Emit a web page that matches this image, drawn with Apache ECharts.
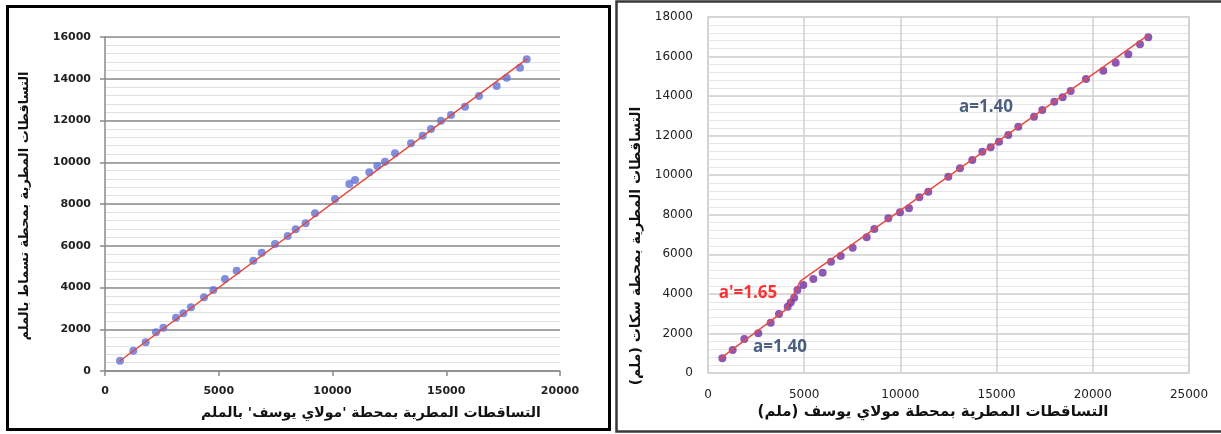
<!DOCTYPE html>
<html>
<head>
<meta charset="utf-8">
<script src="https://cdn.jsdelivr.net/npm/echarts@6/dist/echarts.min.js"></script>
<style>
html,body{margin:0;padding:0;background:#fff;}
#c{width:1221px;height:434px;}
</style>
</head>
<body>
<div id="c"></div>
<script>
// ---- Left chart data (Moulay Youssef vs station 1) ----
const leftX = [659,1245,1788,2242,2564,3121,3443,3780,4352,4762,5275,5788,6520,6886,7473,8029,8381,8820,9231,10110,10740,10989,11619,11971,12308,12747,13451,13963,14330,14769,15209,15824,16440,17216,17656,18242,18535];
const leftY = [493,973,1374,1852,2076,2555,2762,3049,3529,3880,4407,4806,5286,5670,6084,6467,6786,7074,7553,8240,8958,9150,9517,9820,10028,10427,10906,11273,11593,11992,12264,12663,13174,13653,14052,14530,14930];
const leftTrendX = [650, 18550];
const leftTrendY = [480, 14950];
const leftXTicks = [0, 5000, 10000, 15000, 20000];
const leftYTicks = [0, 2000, 4000, 6000, 8000, 10000, 12000, 14000, 16000];

// ---- Right chart data (Moulay Youssef vs Sekkat) ----
const rightX = [745,1282,1888,2616,3257,3690,4141,4300,4480,4650,4955,5475,5960,6393,6896,7519,8247,8645,9373,9979,10447,10983,11450,12490,13098,13737,14257,14693,15125,15609,16128,16944,17375,17999,18435,18851,19647,20546,21190,21845,22453,22885];
const rightY = [743,1163,1719,2007,2545,2983,3353,3560,3800,4200,4450,4753,5073,5629,5916,6337,6861,7281,7821,8124,8326,8883,9168,9926,10350,10770,11190,11412,11697,12034,12455,12960,13298,13719,13939,14258,14865,15285,15690,16113,16619,16973];
const rightTrendX = [600, 4050, 4800, 22900];
const rightTrendY = [700, 3200, 4650, 17100];
const rightXTicks = [0, 5000, 10000, 15000, 20000, 25000];
const rightYTicks = [0, 2000, 4000, 6000, 8000, 10000, 12000, 14000, 16000, 18000];
const annoText = ['a=1.40', "a'=1.65", 'a=1.40'];
const annoX = [14450, 2080, 3740];
const annoY = [13450, 4050, 1320];
const annoColor = ['#1F3864', '#FF0000', '#1F3864'];

// ---- Titles ----
const leftXTitle = "التساقطات المطرية بمحطة 'مولاي يوسف' بالملم";
const leftYTitle = "التساقطات المطرية بمحطة تسماط بالملم";
const rightXTitle = "التساقطات المطرية بمحطة مولاي يوسف (ملم)";
const rightYTitle = "التساقطات المطرية بمحطة سكات (ملم)";

const zip = (a, b) => a.map((v, i) => [v, b[i]]);
const arFont = '"DejaVu Sans", sans-serif';
const plain = v => String(v);

function minorAxis(gridIndex, ticks, color) {
  return {
    gridIndex: gridIndex, type: 'value', position: 'left', offset: 0,
    min: ticks[0], max: ticks[ticks.length - 1], interval: 400,
    axisLine: {show: false}, axisTick: {show: false}, axisLabel: {show: false},
    splitLine: {show: true, lineStyle: {color: color, width: 1.2}}
  };
}

const chart = echarts.init(document.getElementById('c'), null, {renderer: 'canvas'});
const option = {
  animation: false,
  backgroundColor: '#fff',
  grid: [
    {left: 105, top: 37, width: 455, height: 334, show: false, outerBoundsMode: 'none', containLabel: false},
    {left: 708, top: 17, width: 481, height: 356, show: true, borderColor: '#D0D0D0', borderWidth: 1.5, backgroundColor: 'transparent', outerBoundsMode: 'none', containLabel: false}
  ],
  xAxis: [
    {
      gridIndex: 0, type: 'value', position: 'bottom', min: leftXTicks[0], max: leftXTicks[leftXTicks.length - 1], interval: 5000,
      axisLine: {show: true, lineStyle: {color: '#8A8A8A', width: 1.5}},
      axisTick: {show: true, inside: false, length: 5, lineStyle: {color: '#8A8A8A', width: 1.5}},
      axisLabel: {margin: 15, color: '#222', fontFamily: '"DejaVu Sans"', fontSize: 11, fontWeight: 'bold', formatter: plain},
      splitLine: {show: false}
    },
    {
      gridIndex: 1, type: 'value', position: 'bottom', min: rightXTicks[0], max: rightXTicks[rightXTicks.length - 1], interval: 5000,
      axisLine: {show: false},
      axisTick: {show: false},
      axisLabel: {margin: 16, color: '#222', fontFamily: '"DejaVu Sans"', fontSize: 12, formatter: plain},
      splitLine: {show: true, lineStyle: {color: '#D0D0D0', width: 1.5}}
    }
  ],
  yAxis: [
    minorAxis(0, leftYTicks, '#E0E0E0'),
    {
      gridIndex: 0, type: 'value', position: 'left', offset: 0, min: leftYTicks[0], max: leftYTicks[leftYTicks.length - 1], interval: 2000,
      axisLine: {show: true, lineStyle: {color: '#8A8A8A', width: 1.5}},
      axisTick: {show: true, inside: false, length: 5, lineStyle: {color: '#8A8A8A', width: 1.5}},
      axisLabel: {margin: 14, color: '#222', fontFamily: '"DejaVu Sans"', fontSize: 11, fontWeight: 'bold', formatter: plain},
      splitLine: {show: true, lineStyle: {color: '#8C8C8C', width: 1.5}}
    },
    minorAxis(1, rightYTicks, '#E6E6E6'),
    {
      gridIndex: 1, type: 'value', position: 'left', offset: 0, min: rightYTicks[0], max: rightYTicks[rightYTicks.length - 1], interval: 2000,
      axisLine: {show: false},
      axisTick: {show: false},
      axisLabel: {margin: 15, color: '#222', fontFamily: '"DejaVu Sans"', fontSize: 12, formatter: plain},
      splitLine: {show: true, lineStyle: {color: '#D0D0D0', width: 1.5}}
    }
  ],
  series: [
    {
      type: 'scatter', xAxisIndex: 0, yAxisIndex: 1, data: zip(leftX, leftY),
      symbol: 'circle', symbolSize: 8, itemStyle: {color: '#5F72D6'}, z: 2
    },
    {
      type: 'line', xAxisIndex: 0, yAxisIndex: 1, data: zip(leftTrendX, leftTrendY),
      symbol: 'none', lineStyle: {color: '#E3463E', width: 1.5}, z: 3
    },
    {
      type: 'scatter', xAxisIndex: 1, yAxisIndex: 3, data: zip(rightX, rightY),
      symbol: 'circle', symbolSize: 8, itemStyle: {color: '#7030A0'}, z: 2
    },
    {
      type: 'line', xAxisIndex: 1, yAxisIndex: 3, data: zip(rightTrendX, rightTrendY),
      symbol: 'none', lineStyle: {color: '#E84A46', width: 1.5}, z: 3
    },
    {
      type: 'scatter', xAxisIndex: 1, yAxisIndex: 3, symbolSize: 0, z: 5,
      data: annoText.map((t, i) => ({
        value: [annoX[i], annoY[i]],
        label: {show: true, position: 'inside', formatter: t, color: annoColor[i],
          fontFamily: '"Open Sans", "DejaVu Sans", sans-serif', fontSize: 17, fontWeight: 'bold'}
      }))
    }
  ],
  graphic: [
    {type: 'rect', shape: {x: 7.5, y: 6.5, width: 602, height: 423}, style: {fill: 'none', stroke: '#000', lineWidth: 3}, z: 10},
    {type: 'rect', shape: {x: 616.5, y: 1.5, width: 606, height: 430}, style: {fill: 'none', stroke: '#3A3A3A', lineWidth: 2.5}, z: 10},
    {type: 'text', x: 371, y: 413, style: {text: leftXTitle, fill: '#111', font: 'bold 14px ' + arFont, textAlign: 'center', textVerticalAlign: 'middle'}, z: 10},
    {type: 'text', x: 25, y: 206, rotation: Math.PI / 2, style: {text: leftYTitle, fill: '#111', font: 'bold 13px ' + arFont, textAlign: 'center', textVerticalAlign: 'middle'}, z: 10},
    {type: 'text', x: 933, y: 412, style: {text: rightXTitle, fill: '#111', font: 'bold 15px ' + arFont, textAlign: 'center', textVerticalAlign: 'middle'}, z: 10},
    {type: 'text', x: 636, y: 246, rotation: Math.PI / 2, style: {text: rightYTitle, fill: '#111', font: 'bold 14px ' + arFont, textAlign: 'center', textVerticalAlign: 'middle'}, z: 10}
  ]
};
chart.setOption(option);
</script>
</body>
</html>
